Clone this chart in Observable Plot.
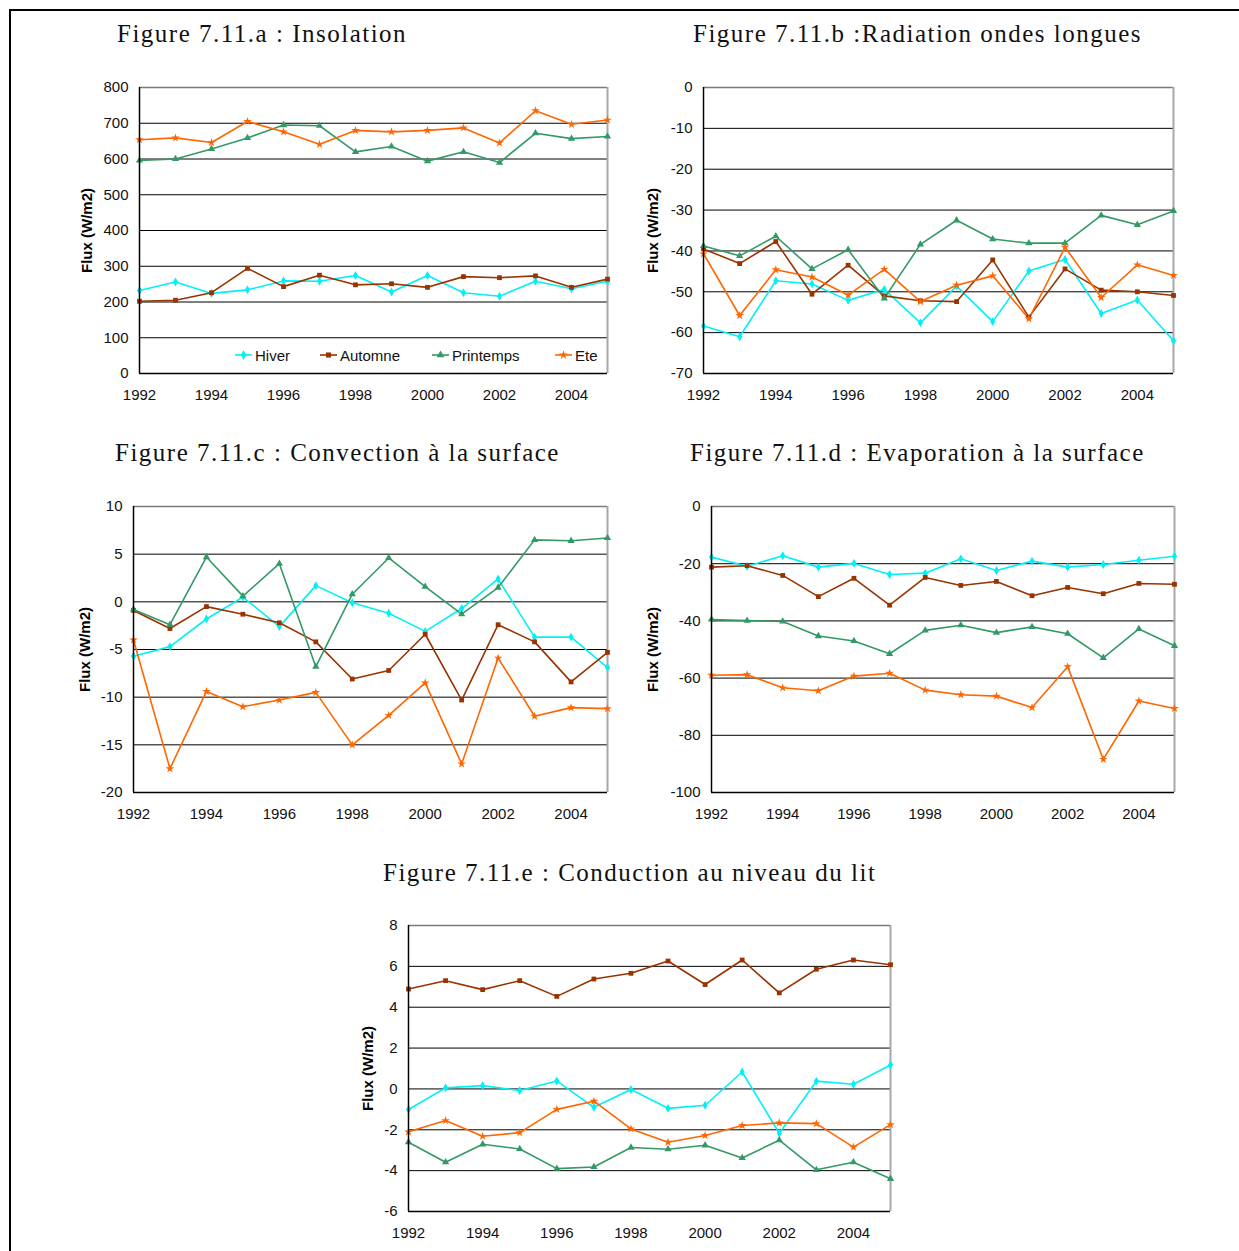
<!DOCTYPE html>
<html>
<head>
<meta charset="utf-8">
<script src="https://cdn.jsdelivr.net/npm/d3@7"></script>
<script src="https://cdn.jsdelivr.net/npm/@observablehq/plot@0.6"></script>
<style>
  html, body { margin: 0; padding: 0; background: #fff; }
  #root { position: relative; width: 1239px; height: 1251px; background: #fff; overflow: hidden; }
  .border { position: absolute; left: 9px; top: 9px; width: 1240px; height: 1250px; border-left: 2px solid #000; border-top: 2px solid #000; }
  .title { position: absolute; font-family: "Liberation Serif", "Times New Roman", serif; font-size: 25px; line-height: 28px; letter-spacing: 1.5px; white-space: nowrap; color: #111; }
  .panel { position: absolute; }
  .legend { position: absolute; font-family: "Liberation Sans", Arial, sans-serif; font-size: 15px; color: #111; white-space: nowrap; }
  .legend .item { position: absolute; top: 0; display: flex; align-items: center; }
  .legend svg { margin-right: 3px; }
</style>
</head>
<body>
<div id="root"><div class="border"></div></div>
<script>
// ---------- Data ----------
const years = [1992, 1993, 1994, 1995, 1996, 1997, 1998, 1999, 2000, 2001, 2002, 2003, 2004, 2005];
const seasons = ["Hiver", "Automne", "Printemps", "Ete"];
const seasonColors = ["#00f0f8", "#993300", "#339966", "#ff6600"];
const seasonSymbols = ["diamond", "square", "triangle", "star"];
const yLabel = "Flux (W/m2)";

// Figure 7.11.a : Insolation
const aHiver     = [232, 256, 224, 234, 259, 258, 274, 228, 274, 226, 216, 258, 237, 258];
const aAutomne   = [202, 205, 226, 294, 243, 275, 248, 251, 241, 271, 268, 273, 241, 264];
const aPrintemps = [596, 600, 628, 659, 695, 693, 620, 635, 594, 620, 590, 672, 657, 663];
const aEte       = [654, 659, 646, 705, 676, 641, 680, 676, 680, 687, 645, 735, 697, 709];

// Figure 7.11.b : Radiation ondes longues
const bHiver     = [-58.4, -61.0, -47.3, -48.1, -52.1, -49.4, -57.6, -48.6, -57.3, -44.9, -42.1, -55.3, -52.0, -62.0];
const bAutomne   = [-39.5, -43.1, -37.7, -50.6, -43.5, -51.0, -52.2, -52.4, -42.2, -56.2, -44.4, -49.6, -50.0, -50.9];
const bPrintemps = [-38.8, -41.2, -36.4, -44.4, -39.7, -51.6, -38.4, -32.5, -37.1, -38.1, -38.1, -31.3, -33.6, -30.2];
const bEte       = [-40.7, -55.8, -44.6, -46.4, -50.8, -44.5, -52.4, -48.4, -46.1, -56.6, -39.1, -51.4, -43.4, -46.0];

// Figure 7.11.c : Convection à la surface
const cHiver     = [-5.7, -4.7, -1.8, 0.5, -2.6, 1.7, -0.1, -1.2, -3.1, -0.7, 2.4, -3.7, -3.7, -6.9];
const cAutomne   = [-0.9, -2.8, -0.5, -1.3, -2.2, -4.2, -8.1, -7.2, -3.4, -10.3, -2.4, -4.2, -8.4, -5.3];
const cPrintemps = [-0.8, -2.4, 4.7, 0.6, 4.0, -6.8, 0.8, 4.6, 1.6, -1.3, 1.5, 6.5, 6.4, 6.7];
const cEte       = [-4.0, -17.5, -9.4, -11.0, -10.3, -9.5, -15.0, -11.9, -8.5, -17.0, -5.9, -12.0, -11.1, -11.2];

// Figure 7.11.d : Evaporation à la surface
const dHiver     = [-17.7, -20.9, -17.2, -21.2, -19.9, -23.8, -23.3, -18.3, -22.4, -19.1, -21.2, -20.3, -18.8, -17.4];
const dAutomne   = [-21.2, -20.7, -24.1, -31.5, -25.1, -34.5, -24.8, -27.6, -26.2, -31.2, -28.3, -30.5, -26.9, -27.2];
const dPrintemps = [-39.5, -39.9, -40.2, -45.3, -47.0, -51.5, -43.3, -41.5, -44.1, -42.1, -44.5, -52.9, -42.8, -48.7];
const dEte       = [-59.0, -58.8, -63.4, -64.4, -59.3, -58.3, -64.2, -65.8, -66.3, -70.3, -56.0, -88.4, -68.0, -70.6];

// Figure 7.11.e : Conduction au niveau du lit
const eHiver     = [-1.01, 0.05, 0.16, -0.08, 0.39, -0.90, -0.03, -0.95, -0.80, 0.83, -2.17, 0.38, 0.23, 1.17];
const eAutomne   = [4.89, 5.30, 4.86, 5.30, 4.53, 5.38, 5.66, 6.26, 5.11, 6.31, 4.70, 5.86, 6.31, 6.08];
const ePrintemps = [-2.61, -3.59, -2.71, -2.94, -3.90, -3.82, -2.87, -2.95, -2.76, -3.38, -2.51, -3.96, -3.59, -4.40];
const eEte       = [-2.10, -1.55, -2.32, -2.14, -1.00, -0.60, -1.96, -2.61, -2.28, -1.79, -1.66, -1.70, -2.85, -1.75];

const xTicks = [1992, 1994, 1996, 1998, 2000, 2002, 2004];

// ---------- Layout ----------
const panels = [
  {title: "Figure 7.11.a : Insolation", tx: 117, ty: 20, series: [aHiver, aAutomne, aPrintemps, aEte],
   domain: [0, 800], step: 100, left: 60, top: 70, width: 560, height: 350, mL: 79, mR: 13, mT: 17, mB: 47, labelDx: -52},
  {title: "Figure 7.11.b :Radiation ondes longues", tx: 693, ty: 20, series: [bHiver, bAutomne, bPrintemps, bEte],
   domain: [-70, 0], step: 10, left: 625, top: 70, width: 600, height: 350, mL: 78, mR: 52, mT: 17, mB: 47, labelDx: -50},
  {title: "Figure 7.11.c : Convection à la surface", tx: 115, ty: 439, series: [cHiver, cAutomne, cPrintemps, cEte],
   domain: [-20, 10], step: 5, left: 60, top: 490, width: 560, height: 350, mL: 73, mR: 13, mT: 16, mB: 48, labelDx: -48},
  {title: "Figure 7.11.d : Evaporation à la surface", tx: 690, ty: 439, series: [dHiver, dAutomne, dPrintemps, dEte],
   domain: [-100, 0], step: 20, left: 625, top: 490, width: 600, height: 350, mL: 86, mR: 51, mT: 16, mB: 48, labelDx: -58},
  {title: "Figure 7.11.e : Conduction au niveau du lit", tx: 383, ty: 859, series: [eHiver, eAutomne, ePrintemps, eEte],
   domain: [-6, 8], step: 2, left: 340, top: 905, width: 580, height: 346, mL: 68, mR: 30, mT: 20, mB: 40, labelDx: -40}
];

const root = document.getElementById("root");

function makePanel(cfg) {
  const rows = seasons.flatMap((s, i) => years.map((yr, j) => ({year: yr, value: cfg.series[i][j], season: s})));
  const yTicks = d3.range(cfg.domain[0], cfg.domain[1] + cfg.step / 2, cfg.step);
  return Plot.plot({
    width: cfg.width,
    height: cfg.height,
    marginLeft: cfg.mL, marginRight: cfg.mR, marginTop: cfg.mT, marginBottom: cfg.mB,
    style: {fontFamily: "'Liberation Sans', Arial, sans-serif", fontSize: "15px", color: "#111", background: "transparent", overflow: "visible"},
    x: {type: "linear", domain: [1992, 2005]},
    y: {domain: cfg.domain},
    color: {domain: seasons, range: seasonColors},
    symbol: {domain: seasons, range: seasonSymbols},
    marks: [
      Plot.ruleY(yTicks.slice(1, -1), {stroke: "#000", strokeWidth: 1}),
      Plot.ruleY([cfg.domain[1]], {stroke: "#7a7a7a", strokeWidth: 1.5}),
      Plot.ruleX([2005], {stroke: "#a8a8a8", strokeWidth: 2}),
      Plot.line(rows, {x: "year", y: "value", z: "season", stroke: "season", strokeWidth: 1.6}),
      Plot.dot(rows, {x: "year", y: "value", symbol: "season", fill: "season", r: 2.7}),
      Plot.ruleX([1992], {stroke: "#000", strokeWidth: 1.5}),
      Plot.ruleY([cfg.domain[0]], {stroke: "#000", strokeWidth: 1.5}),
      Plot.axisX({ticks: xTicks, tickSize: 0, tickPadding: 16, tickFormat: d => String(d), label: null, fontSize: 15}),
      Plot.axisY({ticks: yTicks, tickSize: 0, tickPadding: 11, tickFormat: d => String(d), label: null, fontSize: 15}),
      Plot.text([yLabel], {frameAnchor: "left", textAnchor: "middle", dx: cfg.labelDx, rotate: -90, fontWeight: "bold", fontSize: 15, fill: "#000"})
    ]
  });
}

for (const cfg of panels) {
  const t = document.createElement("div");
  t.className = "title";
  t.style.left = cfg.tx + "px";
  t.style.top = cfg.ty + "px";
  t.textContent = cfg.title;
  root.appendChild(t);

  const p = makePanel(cfg);
  const wrap = document.createElement("div");
  wrap.className = "panel";
  wrap.style.left = cfg.left + "px";
  wrap.style.top = cfg.top + "px";
  wrap.appendChild(p);
  root.appendChild(wrap);
}

// ---------- Legend (inside panel a) ----------
const legend = document.createElement("div");
legend.className = "legend";
legend.style.left = "0px";
legend.style.top = "346px";
const legendX = [235, 320, 432, 555];
const symbolMap = {diamond: d3.symbolDiamond, square: d3.symbolSquare, triangle: d3.symbolTriangle, star: d3.symbolStar};
seasons.forEach((s, i) => {
  const item = document.createElement("div");
  item.className = "item";
  item.style.left = legendX[i] + "px";
  const svg = d3.create("svg").attr("width", 17).attr("height", 18);
  svg.append("line").attr("x1", 0).attr("x2", 17).attr("y1", 9).attr("y2", 9)
    .attr("stroke", seasonColors[i]).attr("stroke-width", 1.6);
  svg.append("path").attr("transform", "translate(8.5,9)")
    .attr("d", d3.symbol(symbolMap[seasonSymbols[i]], 26)())
    .attr("fill", seasonColors[i]);
  item.appendChild(svg.node());
  const span = document.createElement("span");
  span.textContent = s;
  item.appendChild(span);
  legend.appendChild(item);
});
root.appendChild(legend);
</script>
</body>
</html>
